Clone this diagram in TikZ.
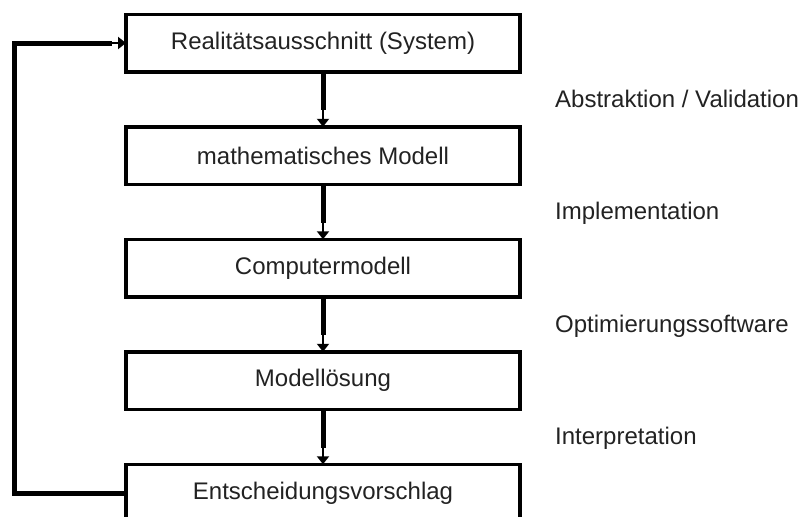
\documentclass[tikz,border=0pt]{standalone}
\usepackage{fontspec}
\setmainfont{Liberation Sans}
\usetikzlibrary{positioning,arrows.meta}
\definecolor{textgray}{HTML}{222222}
\tikzstyle{stepbox} = [
    draw=black,
    line width=3.5pt,
    rectangle,
    minimum width=394pt,
    minimum height=57.5pt,
    inner sep=0pt,
    outer sep=0pt,
    text=textgray,
    font=\fontsize{24}{28}\selectfont
    ]
\tikzstyle{steplabel} = [
    anchor=base west,
    inner sep=0pt,
    yshift=-8pt,
    text=textgray,
    font=\fontsize{24}{28}\selectfont
    ]
\tikzstyle{thickline} = [line width=5pt, line join=miter]
\tikzstyle{thinarrow} = [line width=2pt, -{Triangle[width=12pt,length=8pt]}]

\begin{document}
\begin{tikzpicture}[x=1pt, y=1pt, node distance=55pt]
\useasboundingbox (0,0) rectangle (801,-517);
\clip (0,0) rectangle (801,-517);

\node [stepbox] (system) at (323,-43) {Realitätsausschnitt (System)};
\node [stepbox, below=of system] (mathmod) {mathematisches Modell};
\node [stepbox, below=of mathmod] (compmod) {Computermodell};
\node [stepbox, below=of compmod] (loesung) {Modellösung};
\node [stepbox, below=of loesung] (vorschlag) {Entscheidungsvorschlag};

% downward arrows
\foreach \a/\b in {system/mathmod, mathmod/compmod, compmod/loesung, loesung/vorschlag}{
    \draw [thinarrow] (\a.south) -- (\b.north);
    \draw [thickline] (\a.south) -- ++(0,-38.5);
}

% feedback loop
\coordinate (back) at ([xshift=-14pt]system.west);
\draw [thickline] (vorschlag.west) -- ++(-111.5,0) |- (back);
\draw [thinarrow] (back) -- (system.west);

% labels
\path (system.south) -- (mathmod.north) coordinate[midway] (m1);
\path (mathmod.south) -- (compmod.north) coordinate[midway] (m2);
\path (compmod.south) -- (loesung.north) coordinate[midway] (m3);
\path (loesung.south) -- (vorschlag.north) coordinate[midway] (m4);
\coordinate (lblx) at (555,0);
\node [steplabel] (abstr) at (m1 -| lblx) {Abstraktion / Validation};
\node [steplabel] (impl) at (m2 -| lblx) {Implementation};
\node [steplabel] (optsw) at (m3 -| lblx) {Optimierungssoftware};
\node [steplabel] (interp) at (m4 -| lblx) {Interpretation};
\end{tikzpicture}
\end{document}
